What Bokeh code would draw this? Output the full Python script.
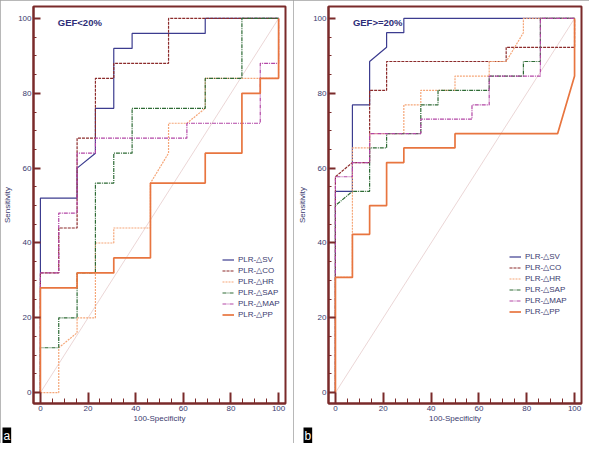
from bokeh.plotting import figure
from bokeh.layouts import row
from bokeh.models import Range1d, SingleIntervalTicker, Label, Legend, LegendItem, Title
from bokeh.embed import file_html
from bokeh.resources import INLINE

# ---------------- data ----------------
labels = ["PLR-\u25b3SV", "PLR-\u25b3CO", "PLR-\u25b3HR", "PLR-\u25b3SAP", "PLR-\u25b3MAP", "PLR-\u25b3PP"]
titles = ["GEF<20%", "GEF>=20%"]
tags = ["a", "b"]
ticks_x_label = "100-Specificity"
ticks_y_label = "Sensitivity"

# Panel a: GEF<20%
a_sv_x = [0, 0, 15.4, 15.4, 23.1, 23.1, 30.8, 30.8, 38.5, 38.5, 69.2, 69.2, 100]
a_sv_y = [0, 52, 52, 60, 64, 76, 76, 92, 92, 96, 96, 100, 100]
a_co_x = [0, 0, 7.7, 7.7, 15.4, 15.4, 23.1, 23.1, 30.8, 30.8, 53.8, 53.8, 100]
a_co_y = [0, 32, 32, 44, 44, 68, 68, 84, 84, 88, 88, 100, 100]
a_hr_x = [0, 7.7, 7.7, 15.4, 15.4, 23.1, 23.1, 30.8, 30.8, 46.2, 46.2, 53.8, 53.8, 61.5, 69.2, 69.2, 100, 100]
a_hr_y = [0, 0, 12, 16, 20, 20, 40, 40, 44, 44, 56, 64, 72, 72, 76, 84, 84, 100]
a_sap_x = [0, 0, 7.7, 7.7, 15.4, 15.4, 23.1, 23.1, 30.8, 30.8, 38.5, 38.5, 69.2, 69.2, 84.6, 84.6, 100]
a_sap_y = [0, 12, 12, 20, 20, 32, 32, 56, 56, 64, 64, 76, 76, 84, 84, 100, 100]
a_map_x = [0, 0, 7.7, 7.7, 15.4, 15.4, 23.1, 23.1, 61.5, 61.5, 92.3, 92.3, 100, 100]
a_map_y = [0, 32, 32, 48, 48, 64, 64, 68, 68, 72, 72, 88, 88, 100]
a_pp_x = [0, 0, 15.4, 15.4, 30.8, 30.8, 46.2, 46.2, 69.2, 69.2, 84.6, 84.6, 92.3, 92.3, 100, 100]
a_pp_y = [0, 28, 28, 32, 32, 36, 36, 56, 56, 64, 64, 80, 80, 84, 84, 100]

# Panel b: GEF>=20%
b_sv_x = [0, 0, 7.1, 7.1, 14.3, 14.3, 21.4, 21.4, 28.6, 28.6, 100]
b_sv_y = [0, 53.8, 53.8, 76.9, 76.9, 88.5, 92.3, 96.2, 96.2, 100, 100]
b_co_x = [0, 0, 7.1, 14.3, 14.3, 21.4, 21.4, 71.4, 71.4, 100, 100]
b_co_y = [0, 57.7, 61.5, 61.5, 80.8, 80.8, 88.5, 88.5, 92.3, 92.3, 100]
b_hr_x = [0, 0, 7.1, 7.1, 14.3, 14.3, 28.6, 28.6, 35.7, 35.7, 50, 50, 64.3, 64.3, 71.4, 78.6, 78.6, 100]
b_hr_y = [0, 30.8, 30.8, 65.4, 65.4, 69.2, 69.2, 76.9, 76.9, 80.8, 80.8, 84.6, 84.6, 88.5, 88.5, 96.2, 100, 100]
b_sap_x = [0, 0, 7.1, 14.3, 14.3, 21.4, 21.4, 35.7, 35.7, 42.9, 42.9, 64.3, 64.3, 78.6, 78.6, 85.7, 85.7, 100]
b_sap_y = [0, 50, 53.8, 53.8, 65.4, 65.4, 69.2, 69.2, 76.9, 76.9, 80.8, 80.8, 84.6, 84.6, 88.5, 88.5, 100, 100]
b_map_x = [0, 0, 7.1, 7.1, 14.3, 14.3, 35.7, 35.7, 57.1, 57.1, 64.3, 64.3, 85.7, 85.7, 100]
b_map_y = [0, 57.7, 57.7, 61.5, 61.5, 69.2, 69.2, 73.1, 73.1, 76.9, 76.9, 84.6, 84.6, 100, 100]
b_pp_x = [0, 0, 7.1, 7.1, 14.3, 14.3, 21.4, 21.4, 28.6, 28.6, 50, 50, 92.9, 100, 100]
b_pp_y = [0, 30.8, 30.8, 42.3, 42.3, 50, 50, 61.5, 61.5, 65.4, 65.4, 69.2, 69.2, 84.6, 100]

ref_x = [0, 100]
ref_y = [0, 100]

# ---------------- styles ----------------
FRAME = "#7a2a2a"
TXT = "#3a3a6e"
FONT = "Liberation Sans"
styles = [
    dict(color="#3c3c8f", line_width=1.2, line_dash="solid"),
    dict(color="#8c2b2b", line_width=1.2, line_dash="3 1"),
    dict(color="#f5a678", line_width=1.2, line_dash="2 1"),
    dict(color="#2e6b35", line_width=1.2, line_dash="4 1 1 1"),
    dict(color="#b347a6", line_width=1.2, line_dash="4 1 1 1"),
    dict(color="#e8753f", line_width=1.7, line_dash="solid"),
]


def make_panel(width, left_border, title, tag, series, legend_xy, tag_off):
    frame_w = 253
    p = figure(width=width, height=443, output_backend="svg", toolbar_location=None,
               x_range=Range1d(-2.9, 102.9), y_range=Range1d(-2.9, 103.2),
               min_border_left=left_border, min_border_right=width - left_border - frame_w,
               min_border_top=6, min_border_bottom=0,
               background_fill_color="white", border_fill_color="white")
    p.xgrid.visible = False
    p.ygrid.visible = False
    p.outline_line_color = FRAME
    p.outline_line_width = 2

    for ax in (p.xaxis[0], p.yaxis[0]):
        ax.ticker = SingleIntervalTicker(interval=20, num_minor_ticks=4)
        ax.axis_line_color = FRAME
        ax.axis_line_width = 2
        ax.major_tick_line_color = FRAME
        ax.major_tick_line_width = 2
        ax.minor_tick_line_color = FRAME
        ax.minor_tick_line_width = 1
        ax.major_tick_out = 0
        ax.minor_tick_out = 0
        ax.major_label_text_font = FONT
        ax.major_label_text_font_size = "8px"
        ax.major_label_text_color = TXT
        ax.axis_label_text_font = FONT
        ax.axis_label_text_font_size = "8px"
        ax.axis_label_text_font_style = "normal"
        ax.axis_label_text_color = TXT
    p.xaxis.major_tick_in = 11
    p.xaxis.minor_tick_in = 5
    p.xaxis.major_label_standoff = 2
    p.xaxis.axis_label = ticks_x_label
    p.xaxis.axis_label_standoff = 0
    p.yaxis.major_tick_in = 7
    p.yaxis.minor_tick_in = 3
    p.yaxis.major_label_standoff = 2
    p.yaxis.axis_label = ticks_y_label
    p.yaxis.axis_label_standoff = 3

    p.line(ref_x, ref_y, color="#e6cccc", line_width=0.8)

    items = []
    for (xs, ys), lab, st in zip(series, labels, styles):
        r = p.line(xs, ys, **st)
        items.append(LegendItem(label=lab, renderers=[r]))

    leg = Legend(items=items, location=legend_xy, padding=0, margin=0, spacing=0,
                 label_height=11, glyph_height=11, glyph_width=12, label_standoff=4,
                 label_text_font=FONT, label_text_font_size="8px", label_text_color=TXT,
                 border_line_color=None, background_fill_alpha=0)
    p.add_layout(leg)

    p.add_layout(Label(x=7.3, y=98.9, text=title,
                       text_font=FONT, text_font_size="9.5px", text_font_style="bold",
                       text_color="#2e2e78", text_baseline="middle"))
    p.add_layout(Title(text=tag, align="left", offset=tag_off, text_font=FONT,
                       text_font_size="12px", text_font_style="normal",
                       text_color="white", background_fill_color="black",
                       padding=1, standoff=0), "below")
    p.styles = {"outline": "1px solid #a0a0a0", "outline-offset": "-1px"}
    return p


pa = make_panel(293, 32, titles[0], tags[0],
                [(a_sv_x, a_sv_y), (a_co_x, a_co_y), (a_hr_x, a_hr_y),
                 (a_sap_x, a_sap_y), (a_map_x, a_map_y), (a_pp_x, a_pp_y)],
                (189, 83), -31)
pb = make_panel(296, 35, titles[1], tags[1],
                [(b_sv_x, b_sv_y), (b_co_x, b_co_y), (b_hr_x, b_hr_y),
                 (b_sap_x, b_sap_y), (b_map_x, b_map_y), (b_pp_x, b_pp_y)],
                (181, 86), -25)

layout = row(pa, pb)
open("out.html", "w").write(file_html(layout, INLINE))
